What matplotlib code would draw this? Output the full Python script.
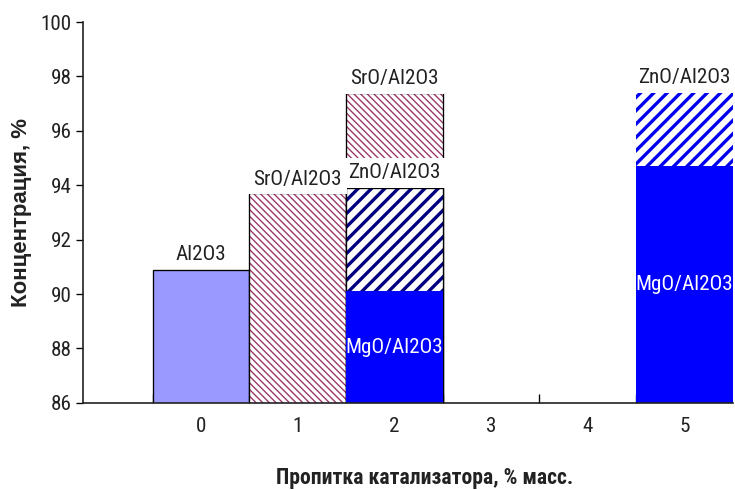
import matplotlib.pyplot as plt
import matplotlib as mpl

plt.rcParams['font.family'] = ['Roboto Condensed', 'PT Sans Narrow', 'DejaVu Sans']

# Data: catalyst loading (% mass) vs concentration (%)
tick_labels = ['0', '1', '2', '3', '4', '5']

al2o3_x = [0]
al2o3_val = [90.9]

sro_x = [1, 2]
sro_val = [93.7, 97.4]

zno_x = [2, 5]
zno_val = [93.9, 97.4]

mgo_x = [2, 5]
mgo_val = [90.1, 94.7]

y_min, y_max = 86, 100

fig = plt.figure(figsize=(735 / 80, 490 / 80), dpi=80)
ax = fig.add_axes([0.113, 0.178, 0.884, 0.777])

# Al2O3
ax.bar(al2o3_x, al2o3_val, width=1.0, color='#9999ff', edgecolor='black', linewidth=1.2, zorder=2)

# SrO/Al2O3 - thin maroon hatching
with mpl.rc_context({'hatch.linewidth': 1.2}):
    ax.bar(sro_x, sro_val, width=1.0, color='white', edgecolor='#993366', hatch='\\\\\\\\', linewidth=0, zorder=2)
ax.bar(sro_x, sro_val, width=1.0, fill=False, edgecolor='black', linewidth=1.2, zorder=2.1)

# ZnO/Al2O3 - thick dark-blue hatching, drawn over SrO
zno_colors = ['#000080', '#0000ee']
with mpl.rc_context({'hatch.linewidth': 3.0}):
    for x, v, c in zip(zno_x, zno_val, zno_colors):
        ax.bar(x, v, width=1.0, color='white', edgecolor=c, hatch='//', linewidth=0, zorder=3)
ax.bar(zno_x[0], zno_val[0], width=1.0, fill=False, edgecolor='black', linewidth=1.2, zorder=3.1)

# MgO/Al2O3 - solid blue, front
ax.bar(mgo_x, mgo_val, width=1.0, color='#0000ff', linewidth=0, zorder=4)

# labels
lbl = dict(ha='center', va='bottom', fontsize=19, color='#222222', zorder=6)
box = dict(boxstyle='square,pad=0.25', facecolor='white', edgecolor='none')
ax.annotate('Al2O3', (al2o3_x[0], al2o3_val[0]), xytext=(0, 5), textcoords='offset points', **lbl)
for x, v in zip(sro_x, sro_val):
    ax.annotate('SrO/Al2O3', (x, v), xytext=(0, 4), textcoords='offset points', bbox=box, **lbl)
for x, v in zip(zno_x, zno_val):
    ax.annotate('ZnO/Al2O3', (x, v), xytext=(0, 5), textcoords='offset points', bbox=box, **lbl)
for x, v in zip(mgo_x, mgo_val):
    ax.text(x, (y_min + v) / 2, 'MgO/Al2O3', ha='center', va='center', fontsize=19,
            color='white', zorder=6)

ax.set_xlim(-1.22, 5.5)
ax.set_ylim(y_min, y_max)
ax.set_yticks(range(y_min, y_max + 1, 2))
ax.set_xticks(range(len(tick_labels)))
ax.set_xticklabels(tick_labels)
ax.set_xticks([i - 0.5 for i in range(len(tick_labels))], minor=True)

ax.tick_params(axis='x', which='major', length=0, pad=13, labelsize=19, labelcolor='#222222')
ax.tick_params(axis='x', which='minor', direction='in', length=8, width=1.2)
ax.tick_params(axis='y', direction='out', length=6, width=1.2, pad=4, labelsize=19, labelcolor='#222222')

for s in ['top', 'right']:
    ax.spines[s].set_visible(False)
for s in ['left', 'bottom']:
    ax.spines[s].set_linewidth(1.5)
    ax.spines[s].set_color('#222222')
    ax.spines[s].set_zorder(5)

ax.set_xlabel('Пропитка катализатора, % масс.', fontsize=19.5, fontweight='bold', color='#222222')
ax.xaxis.set_label_coords(0.526, -0.168)
ax.set_ylabel('Концентрация, %', fontsize=20, fontweight='bold', color='#222222',
              family=['Liberation Sans', 'DejaVu Sans'])
ax.yaxis.set_label_coords(-0.078, 0.5)

fig.savefig('out.png', dpi=80)
